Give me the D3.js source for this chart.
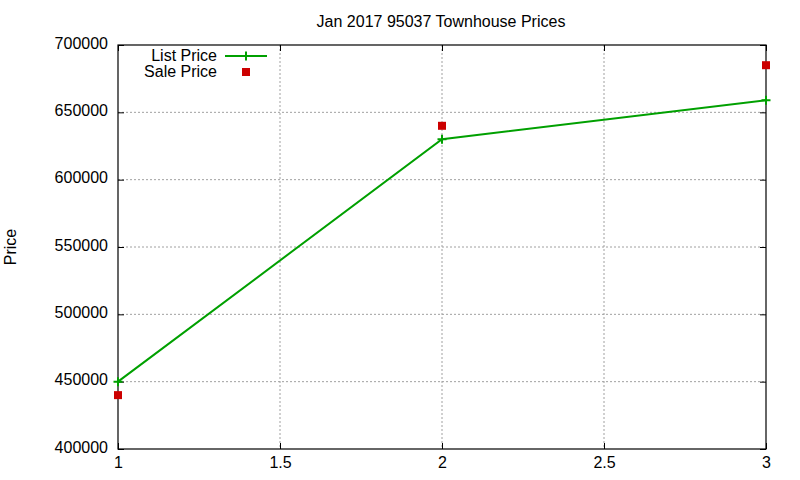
<!DOCTYPE html>
<html>
<head>
<meta charset="utf-8">
<script src="https://cdn.jsdelivr.net/npm/d3@7"></script>
<style>
  body { margin: 0; background: white; }
  text { font-family: "Liberation Sans", Arial, sans-serif; }
</style>
</head>
<body>
<script>
// data
var months = [1, 2, 3];
var list_price = [450000, 630000, 659000];
var sale_price = [440000, 640000, 685000];
var x_ticks = [1, 1.5, 2, 2.5, 3];
var y_ticks = [400000, 450000, 500000, 550000, 600000, 650000, 700000];

var list_col = "#00a000",
    sale_col = "#cc0000",
    grid_col = "#a0a0a0";

var margin = {top: 45, right: 34, bottom: 31, left: 118},
    width = 800 - margin.left - margin.right,
    height = 480 - margin.top - margin.bottom;

var svg = d3.select("body")
    .append("svg")
    .attr("width", 800)
    .attr("height", 480);

var g = svg.append("g")
    .attr("transform", "translate(" + margin.left + "," + margin.top + ")");

var xScale = d3.scaleLinear().domain([1, 3]).range([0, width]);
var yScale = d3.scaleLinear().domain([400000, 700000]).range([height, 0]);

// ==== grid ====
g.append("g").selectAll("line")
    .data(x_ticks.slice(1, -1))
    .join("line")
    .attr("x1", d => xScale(d)).attr("x2", d => xScale(d))
    .attr("y1", 0).attr("y2", height)
    .attr("stroke", grid_col)
    .attr("stroke-width", 1)
    .attr("stroke-dasharray", "2,2");

g.append("g").selectAll("line")
    .data(y_ticks.slice(1, -1))
    .join("line")
    .attr("x1", 0).attr("x2", width)
    .attr("y1", d => yScale(d)).attr("y2", d => yScale(d))
    .attr("stroke", grid_col)
    .attr("stroke-width", 1)
    .attr("stroke-dasharray", "2,2");

// ==== axes (inward ticks, mirrored) ====
function style_axis(sel) {
    sel.select(".domain").remove();
    sel.selectAll("line").attr("stroke", "black").attr("stroke-width", 1);
    sel.selectAll("text")
        .attr("font-family", '"Liberation Sans", Arial, sans-serif')
        .attr("font-size", "16px")
        .attr("fill", "black");
}

g.append("g")
    .attr("transform", "translate(0," + height + ")")
    .call(d3.axisBottom(xScale).tickValues(x_ticks).tickSizeInner(-6).tickPadding(8)
        .tickFormat(d3.format("")))
    .call(style_axis);

g.append("g")
    .call(d3.axisTop(xScale).tickValues(x_ticks).tickSizeInner(-6).tickFormat(""))
    .call(style_axis);

g.append("g")
    .call(d3.axisLeft(yScale).tickValues(y_ticks).tickSizeInner(-6).tickPadding(10)
        .tickFormat(d3.format("d")))
    .call(style_axis)
    .selectAll("text").attr("dy", "0.2em");

g.append("g")
    .attr("transform", "translate(" + width + ",0)")
    .call(d3.axisRight(yScale).tickValues(y_ticks).tickSizeInner(-6).tickFormat(""))
    .call(style_axis);

// frame
g.append("rect")
    .attr("x", 0).attr("y", 0)
    .attr("width", width).attr("height", height)
    .attr("fill", "none")
    .attr("stroke", "black")
    .attr("stroke-width", 1.2);

// ==== list price line ====
var line = d3.line()
    .x((d, i) => xScale(months[i]))
    .y(d => yScale(d));

g.append("path")
    .datum(list_price)
    .attr("d", line)
    .attr("fill", "none")
    .attr("stroke", list_col)
    .attr("stroke-width", 2);

function plus(sel, x, y) {
    sel.append("path")
        .attr("d", "M" + (x - 4.5) + "," + y + "h9M" + x + "," + (y - 4.5) + "v9")
        .attr("stroke", list_col)
        .attr("stroke-width", 2)
        .attr("fill", "none");
}

list_price.forEach(function(d, i) {
    plus(g, xScale(months[i]), yScale(d));
});

// ==== sale price points ====
g.append("g").selectAll("rect")
    .data(sale_price)
    .join("rect")
    .attr("x", (d, i) => xScale(months[i]) - 4)
    .attr("y", d => yScale(d) - 4)
    .attr("width", 8)
    .attr("height", 8)
    .attr("fill", sale_col);

// ==== legend ====
var leg = svg.append("g");
leg.append("text")
    .text("List Price")
    .attr("x", 217).attr("y", 61)
    .attr("text-anchor", "end")
    .attr("font-size", "16px");
leg.append("line")
    .attr("x1", 225).attr("x2", 267)
    .attr("y1", 56).attr("y2", 56)
    .attr("stroke", list_col)
    .attr("stroke-width", 2);
plus(leg, 246, 56);

leg.append("text")
    .text("Sale Price")
    .attr("x", 217).attr("y", 77)
    .attr("text-anchor", "end")
    .attr("font-size", "16px");
leg.append("rect")
    .attr("x", 242).attr("y", 68)
    .attr("width", 8).attr("height", 8)
    .attr("fill", sale_col);

// ==== titles ====
svg.append("text")
    .text("Jan 2017 95037 Townhouse Prices")
    .attr("x", 441).attr("y", 27)
    .attr("text-anchor", "middle")
    .attr("font-size", "16px");

svg.append("text")
    .text("Price")
    .attr("transform", "translate(16,247) rotate(-90)")
    .attr("text-anchor", "middle")
    .attr("font-size", "16px");
</script>
</body>
</html>
